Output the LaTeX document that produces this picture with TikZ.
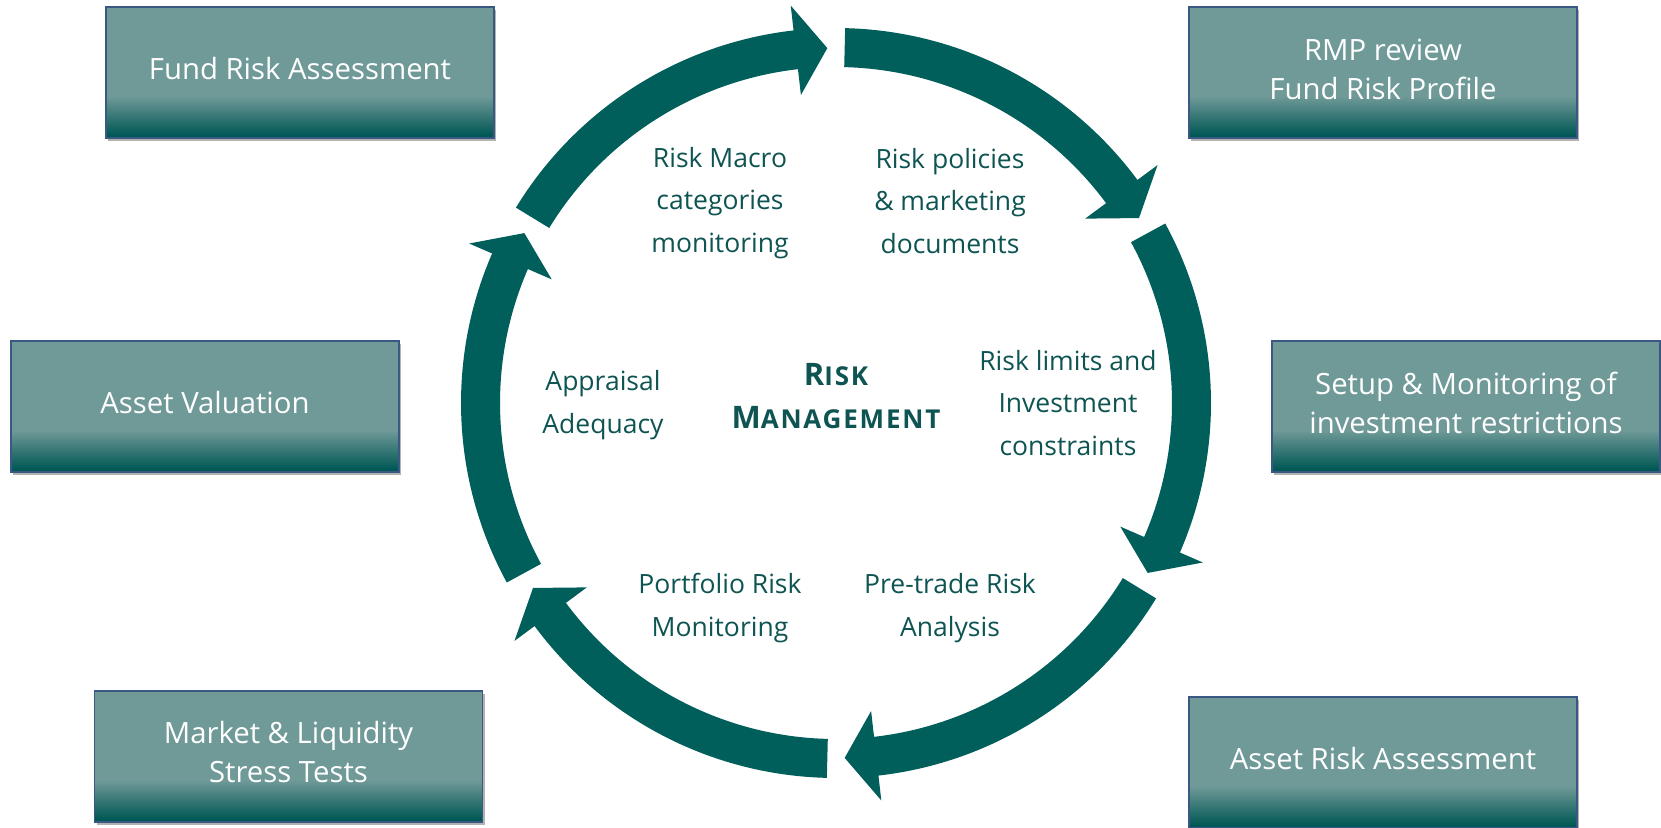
\documentclass[tikz,border=0pt]{standalone}
\usepackage{fontspec}
\setmainfont{Open Sans}
\usetikzlibrary{shadows}
\definecolor{ring}{RGB}{0,94,91}
\definecolor{ctext}{RGB}{14,84,82}
\definecolor{boxlight}{RGB}{111,154,152}
\definecolor{boxmid}{RGB}{52,118,116}
\definecolor{boxdark}{RGB}{0,88,86}
\definecolor{boxline}{RGB}{58,88,130}
\pgfdeclareverticalshading{boxshade}{100bp}{color(0bp)=(boxdark); color(26bp)=(boxdark); color(33bp)=(boxmid); color(41bp)=(boxlight); color(100bp)=(boxlight)}
\newcommand\ringarrow[1]{%
  \pgfmathsetmacro\rtip{#1-57.2}%
  \pgfmathsetmacro\rback{#1-52.1}%
  \fill[ring] (#1:375pt) arc[start angle=#1, end angle=\rback, radius=375pt]
    -- (\rback:400pt) -- (\rtip:355pt) -- (\rback:310pt) -- (\rback:336pt)
    arc[start angle=\rback, end angle=#1, radius=336pt] -- cycle;}
\newcommand\smc[1]{{\fontsize{26}{43}\selectfont\addfontfeature{LetterSpace=7}#1}}
\tikzset{
  infobox/.style={shade, shading=boxshade, draw=boxline, line width=1.2pt,
    minimum width=388pt, minimum height=131pt, inner sep=0pt,
    drop shadow={shadow xshift=2pt, shadow yshift=-3pt, opacity=0.3, fill=black}},
  btxt/.style={text=white, align=center, inner sep=0pt, font=\fontsize{29.3}{39}\selectfont},
  ctxt/.style={text=ctext, align=center, inner sep=0pt, font=\fontsize{26.5}{42.5}\selectfont},
  title/.style={text=ctext, align=center, inner sep=0pt, font=\bfseries\fontsize{31}{43}\selectfont}
}
\begin{document}
\begin{tikzpicture}[x=1pt,y=1pt]
\useasboundingbox (0,0) rectangle (1661,-827);
\begin{scope}[shift={(836,-403)}]
  \foreach \t in {148.6,88.6,28.6,-31.4,-91.4,-151.4} {\ringarrow{\t}}
\end{scope}
\node[infobox] (fund) at (300,-72.5) {};
\node[infobox] (rmp) at (1383,-72.5) {};
\node[infobox] (aval) at (205,-406.5) {};
\node[infobox] (setup) at (1466,-406.5) {};
\node[infobox] (market) at (288.5,-756.5) {};
\node[infobox] (arisk) at (1383,-762.5) {};
\node[btxt] (fund-t) at ([yshift=3.5pt]fund.center) {Fund Risk Assessment};
\node[btxt] (rmp-t) at ([yshift=3.5pt]rmp.center) {RMP review\\Fund Risk Profile};
\node[btxt] (aval-t) at ([yshift=3.5pt]aval.center) {Asset Valuation};
\node[btxt] (setup-t) at ([yshift=4pt]setup.center) {Setup \& Monitoring of\\investment restrictions};
\node[btxt] (market-t) at ([yshift=4pt]market.center) {Market \& Liquidity\\Stress Tests};
\node[btxt] (arisk-t) at ([yshift=4pt]arisk.center) {Asset Risk Assessment};
\node[ctxt] (macro) at (720,-203) {Risk Macro\\categories\\monitoring};
\node[ctxt] (policies) at (950,-201) {Risk policies\\\& marketing\\documents};
\node[ctxt] (limits) at (1068,-403) {Risk limits and\\Investment\\constraints};
\node[ctxt] (appraisal) at (603,-405) {Appraisal\\Adequacy};
\node[ctxt] (portfolio) at (720,-608) {Portfolio Risk\\Monitoring};
\node[ctxt] (pretrade) at (950,-608) {Pre-trade Risk\\Analysis};
\node[title] (rm) at (836,-396) {R\smc{ISK}\\M\smc{ANAGEMENT}};
\end{tikzpicture}
\end{document}
